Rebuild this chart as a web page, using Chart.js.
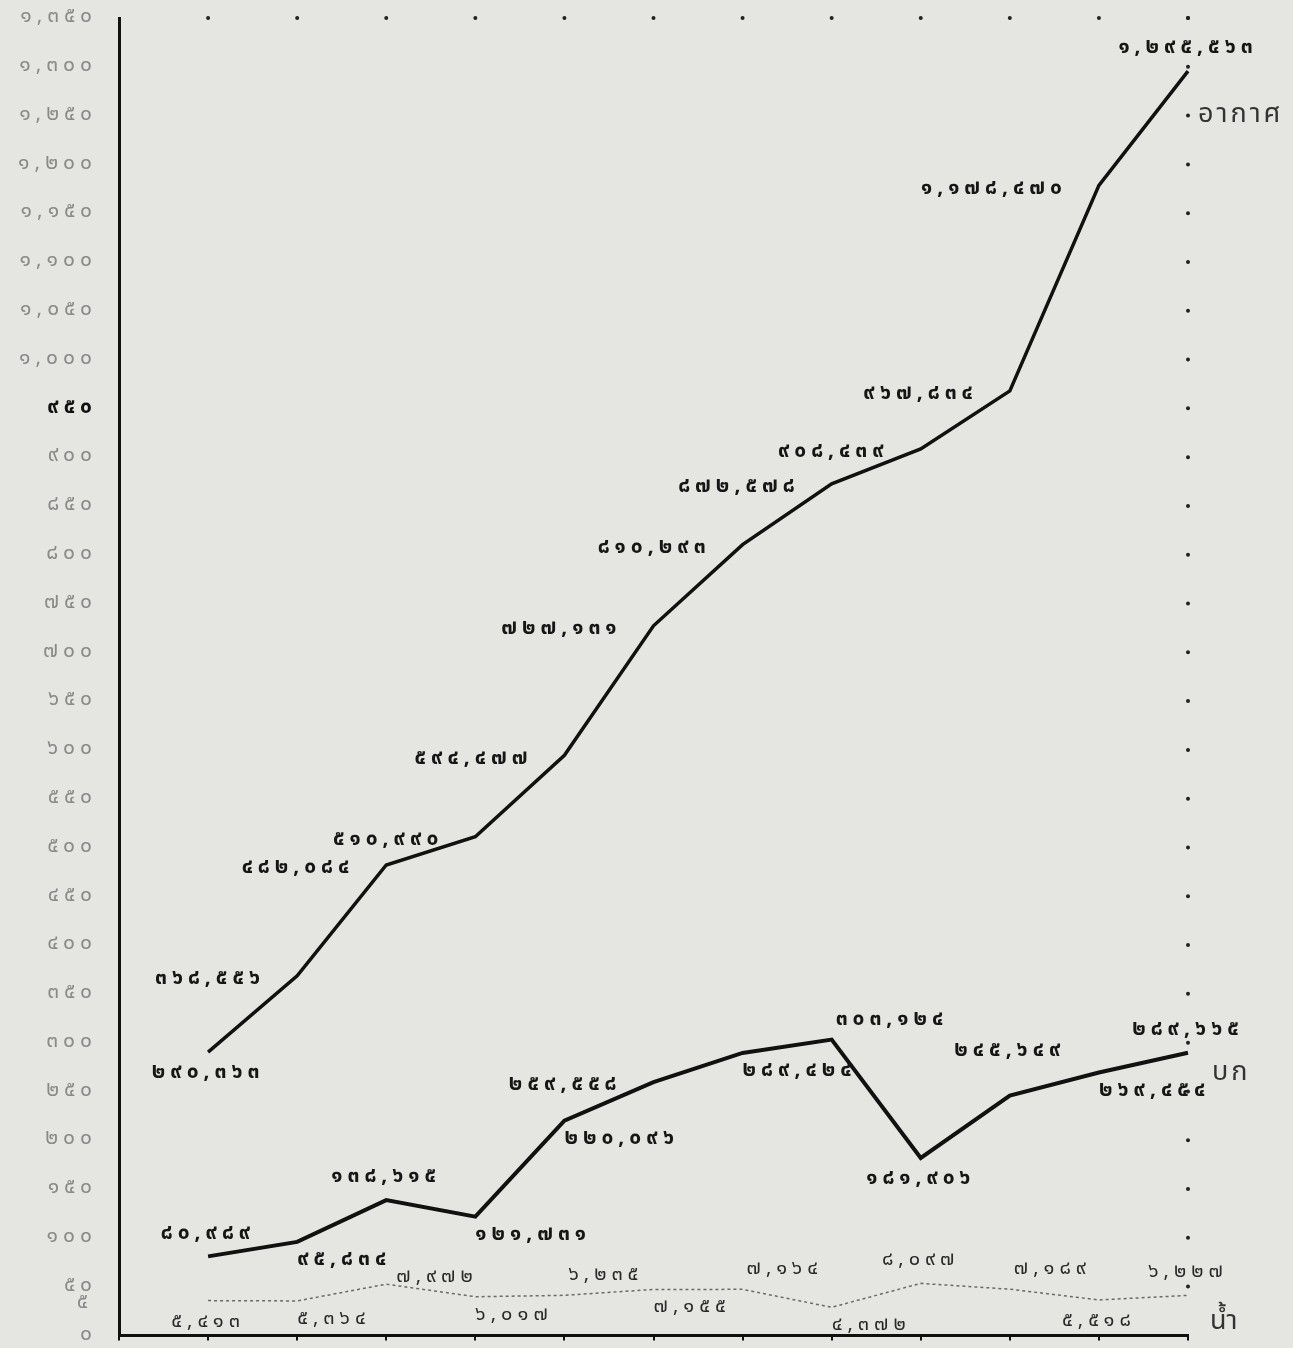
<!DOCTYPE html>
<html>
<head>
<meta charset="utf-8">
<script src="https://cdn.jsdelivr.net/npm/chart.js@4.4.1/dist/chart.umd.min.js"></script>
<style>
  body { margin: 0; background: #e5e5e2; }
  #wrap { width: 1293px; height: 1348px; position: relative; }
</style>
</head>
<body>
<div id="wrap"><canvas id="chart"></canvas></div>
<script>
// periods along the bottom (no labels printed on the original)
const periods = ['1', '2', '3', '4', '5', '6', '7', '8', '9', '10', '11', '12'];

// values as printed beside each point
const airValues = [290363, 368556, 482084, 510990, 594477, 727131, 810293, 872578, 908439, 967834, 1178470, 1295563];
const landValues = [80989, 95834, 138615, 121731, 220096, 259558, 289424, 303124, 181906, 245649, 269454, 289665];
const waterValues = [5413, 5364, 7972, 6017, 6235, 7155, 7164, 4372, 8097, 7189, 5518, 6227];

const seriesNames = ['อากาศ', 'บก', 'น้ำ'];

// y ticks (in thousands)
const yMax = 1350000;
const yStep = 50000;
const waterTick = 5000;

// where each value label sits relative to its point
const airPlace = ['B', 'L', 'L', 'L', 'L', 'L', 'L', 'L', 'L', 'L', 'L', 'A'];
const landPlace = ['A', 'BR', 'A', 'BR', 'BR', 'L', 'BR', 'AR', 'B', 'A2', 'BR', 'A'];
const waterPlace = ['B', 'BR', 'R', 'BR', 'AR', 'BR', 'AR', 'BR', 'A', 'AR', 'B', 'A'];

const thaiDigits = '๐๑๒๓๔๕๖๗๘๙';
function toThai(s) {
    return String(s).replace(/[0-9]/g, d => thaiDigits[+d]);
}
function fmt(n) {
    return toThai(Math.round(n).toLocaleString('en-US'));
}

const FONT = '"Noto Sans Thai", "Noto Sans", "DejaVu Sans", sans-serif';

const placeOffsets = {
    L:  { dx: -32, dy: 4,   align: 'right' },
    R:  { dx: 10,  dy: -6,  align: 'left' },
    A:  { dx: 0,   dy: -22, align: 'center' },
    A2: { dx: 0,   dy: -44, align: 'center' },
    B:  { dx: 0,   dy: 22,  align: 'center' },
    AR: { dx: 4,   dy: -19, align: 'left' },
    BR: { dx: 0,   dy: 19,  align: 'left' }
};

// typewriter-like wide spacing for every text drawn on the canvas
const spacingPlugin = {
    id: 'spacing',
    beforeDraw(chart) { chart.ctx.letterSpacing = '5px'; }
};

const labelPlugin = {
    id: 'paperMarks',
    afterDatasetsDraw(chart) {
        const ctx = chart.ctx;
        const area = chart.chartArea;
        const x = chart.scales.x;
        const y = chart.scales.y;
        const y2 = chart.scales.y2;
        ctx.save();

        // dotted top & right border
        ctx.fillStyle = '#222';
        for (let i = 1; i <= periods.length; i++) {
            ctx.beginPath();
            ctx.arc(x.getPixelForValue(i), area.top, 2, 0, Math.PI * 2);
            ctx.fill();
        }
        y.ticks.forEach(t => {
            if (t.value === 0) return;
            ctx.beginPath();
            ctx.arc(area.right, y.getPixelForValue(t.value), 2, 0, Math.PI * 2);
            ctx.fill();
        });

        // extra "5" tick for the water scale
        ctx.font = '21px ' + FONT;
        ctx.letterSpacing = '5px';
        ctx.fillStyle = '#8a8a8a';
        ctx.textAlign = 'right';
        ctx.textBaseline = 'middle';
        ctx.fillText(toThai(waterTick / 1000), area.left - 26, y2.getPixelForValue(waterTick));

        // value labels
        const sets = [
            { meta: chart.getDatasetMeta(0), vals: airValues, place: airPlace, font: 'bold 21px ', color: '#161616' },
            { meta: chart.getDatasetMeta(1), vals: landValues, place: landPlace, font: 'bold 21px ', color: '#161616' },
            { meta: chart.getDatasetMeta(2), vals: waterValues, place: waterPlace, font: '20px ', color: '#2a2a2a' }
        ];
        sets.forEach(s => {
            ctx.font = s.font + FONT;
            ctx.fillStyle = s.color;
            s.vals.forEach((v, i) => {
                const pt = s.meta.data[i + 1];
                const o = placeOffsets[s.place[i]];
                ctx.textAlign = o.align;
                ctx.fillText(fmt(v), pt.x + o.dx, pt.y + o.dy);
            });
        });

        // series names on the right
        ctx.font = '27px ' + FONT;
        ctx.letterSpacing = '3px';
        ctx.textAlign = 'left';
        ctx.fillStyle = '#333';
        const lastAir = chart.getDatasetMeta(0).data[periods.length];
        const lastLand = chart.getDatasetMeta(1).data[periods.length];
        const lastWater = chart.getDatasetMeta(2).data[periods.length];
        ctx.fillText(seriesNames[0], area.right + 10, lastAir.y + 45);
        ctx.fillText(seriesNames[1], area.right + 24, lastLand.y + 22);
        ctx.fillText(seriesNames[2], area.right + 22, lastWater.y + 28);
        ctx.restore();
    }
};

new Chart(document.getElementById('chart'), {
    type: 'line',
    data: {
        labels: [''].concat(periods),
        datasets: [{
            label: seriesNames[0],
            data: [null].concat(airValues),
            borderColor: '#111',
            borderWidth: 3.5,
            yAxisID: 'y'
        }, {
            label: seriesNames[1],
            data: [null].concat(landValues),
            borderColor: '#111',
            borderWidth: 4,
            yAxisID: 'y'
        }, {
            label: seriesNames[2],
            data: [null].concat(waterValues),
            borderColor: '#6a6a6a',
            borderWidth: 1.5,
            borderDash: [3, 3],
            yAxisID: 'y2'
        }]
    },
    options: {
        responsive: true,
        maintainAspectRatio: false,
        animation: false,
        elements: { point: { radius: 0 }, line: { tension: 0 } },
        layout: { padding: { top: 18, right: 105, bottom: 8, left: 0 } },
        plugins: { legend: { display: false }, tooltip: { enabled: false } },
        scales: {
            x: {
                offset: false,
                ticks: { display: false },
                grid: { drawOnChartArea: false, color: '#111', lineWidth: 2, tickLength: 5 },
                border: { display: true, color: '#111', width: 3 },
                afterFit: s => { s.height = 0; }
            },
            y: {
                min: 0,
                max: yMax,
                ticks: {
                    stepSize: yStep,
                    padding: 0,
                    color: ctx => ctx.tick && ctx.tick.value === 950000 ? '#111' : '#8a8a8a',
                    font: ctx => ({
                        family: FONT,
                        size: 21,
                        weight: ctx.tick && ctx.tick.value === 950000 ? 'bold' : 'normal'
                    }),
                    callback: v => fmt(v / 1000)
                },
                grid: { drawOnChartArea: false, drawTicks: true, tickLength: 22, color: 'rgba(0,0,0,0)' },
                border: { display: true, color: '#111', width: 3 },
                afterFit: s => { s.width = 119; }
            },
            y2: {
                display: false,
                min: 0,
                max: 205000
            }
        }
    },
    plugins: [spacingPlugin, labelPlugin]
});
</script>
</body>
</html>
